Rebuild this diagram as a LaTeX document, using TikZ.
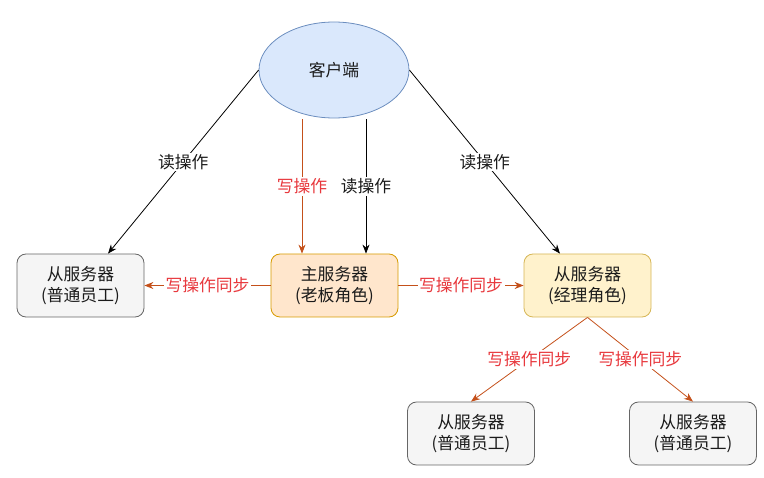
\documentclass[tikz,border=0pt]{standalone}
\usepackage{fontspec}
\setmainfont{Noto Sans CJK SC}
\usetikzlibrary{arrows.meta,calc,shapes.geometric}
\definecolor{cliFill}{HTML}{DAE8FC}
\definecolor{cliLine}{HTML}{6C8EBF}
\definecolor{grayFill}{HTML}{F5F5F5}
\definecolor{grayLine}{HTML}{666666}
\definecolor{orFill}{HTML}{FFE6CC}
\definecolor{orLine}{HTML}{D79B00}
\definecolor{yeFill}{HTML}{FFF2CC}
\definecolor{yeLine}{HTML}{D6B656}
\definecolor{syncArrow}{HTML}{C4501A}
\definecolor{syncText}{HTML}{E8383D}
\definecolor{txt}{HTML}{1A1A1A}
\tikzset{
  srv/.style={rounded corners=9pt, minimum width=127pt, minimum height=63pt, align=center,
    font=\fontsize{16.8pt}{20.5pt}\selectfont, text=txt, line width=0.8pt, inner sep=0pt},
  graysrv/.style={srv, draw=grayLine, fill=grayFill},
  bosssrv/.style={srv, draw=orLine, fill=orFill},
  mgrsrv/.style={srv, draw=yeLine, fill=yeFill},
  readarr/.style={draw=black, line width=0.8pt, -{Stealth[length=9pt,width=7pt]}},
  syncarr/.style={draw=syncArrow, line width=0.8pt, -{Stealth[length=9pt,width=7pt]}},
  lbl/.style={fill=white, inner sep=1.5pt, font=\fontsize{16.8pt}{20.5pt}\selectfont},
  readlbl/.style={lbl, text=txt},
  synclbl/.style={lbl, text=syncText},
}
\begin{document}
\begin{tikzpicture}[x=1pt,y=-1pt]
\useasboundingbox (0,0) rectangle (764,478);
\node[ellipse, draw=cliLine, fill=cliFill, line width=0.8pt, minimum width=150pt, minimum height=96pt,
  font=\fontsize{16.8pt}{20.5pt}\selectfont, text=txt] (cli) at (334,70) {客户端};
\node[graysrv] (ls) at (80.5,285.5) {从服务器\\(普通员工)};
\node[bosssrv] (ms) at (334.5,285.5) {主服务器\\(老板角色)};
\node[mgrsrv] (rs) at (587.5,285.5) {从服务器\\(经理角色)};
\node[graysrv] (bl) at (471,433.5) {从服务器\\(普通员工)};
\node[graysrv] (br) at (693,433.5) {从服务器\\(普通员工)};

\draw[readarr] (cli.west) -- node[readlbl] {读操作} ($(ls.north)+(27.5,0)$);
\draw[readarr] (cli.east) -- node[readlbl] {读操作} ($(rs.north)+(-27.5,0)$);
\draw[syncarr] ($(cli.south)+(-32,1)$) -- node[synclbl] {写操作} ($(ms.north)+(-32.5,0)$);
\draw[readarr] ($(cli.south)+(32,1)$) -- node[readlbl] {读操作} ($(ms.north)+(31.5,0)$);
\draw[syncarr] (ms.west) -- node[synclbl] {写操作同步} (ls.east);
\draw[syncarr] (ms.east) -- node[synclbl] {写操作同步} (rs.west);
\draw[syncarr] (rs.south) -- node[synclbl] {写操作同步} (bl.north);
\draw[syncarr] (rs.south) -- node[synclbl] {写操作同步} (br.north);
\end{tikzpicture}
\end{document}
